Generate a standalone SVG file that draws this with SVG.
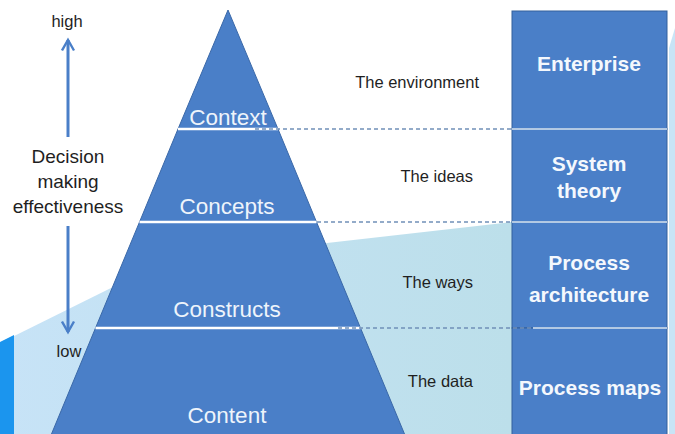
<svg xmlns="http://www.w3.org/2000/svg" width="675" height="434" viewBox="0 0 675 434">
<style>
.layer{fill:#4a7fc8;stroke:#3a68a8;stroke-width:1}
.cell{fill:#4a7fc8;stroke:#33609c;stroke-width:1}
.sep{stroke:#ffffff;stroke-width:2.5}
.csep{stroke:#dbe8f6;stroke-width:1.5}
.dash{stroke:#7090b8;stroke-width:1.3;stroke-dasharray:4 3;fill:none}
.pt{font-family:"Liberation Sans",Arial,sans-serif;font-size:22.5px;fill:#eef4fb;text-anchor:middle}
.mt{font-family:"Liberation Sans",Arial,sans-serif;font-size:16.5px;fill:#1f1f1f;text-anchor:end}
.ct{font-family:"Liberation Sans",Arial,sans-serif;font-size:21px;font-weight:bold;fill:#f4f8fd;text-anchor:middle}
.lt{font-family:"Liberation Sans",Arial,sans-serif;font-size:19px;fill:#1f1f1f;text-anchor:middle}
.st{font-family:"Liberation Sans",Arial,sans-serif;font-size:16.5px;fill:#1f1f1f;text-anchor:middle}
.arr{stroke:#4a7fc8;stroke-width:3;fill:none}
</style>
<defs>
<linearGradient id="bg" x1="0" y1="0" x2="1" y2="0">
<stop offset="0" stop-color="#c7e3f7"/>
<stop offset="1" stop-color="#bcdfea"/>
</linearGradient>
<marker id="ah" viewBox="0 0 10 10" refX="8" refY="5" markerWidth="5" markerHeight="5" orient="auto-start-reverse">
<path d="M1,1 L8,5 L1,9" fill="none" stroke="#4a7fc8" stroke-width="1.6"/>
</marker>
</defs>
<rect width="675" height="434" fill="#ffffff"/>
<g id="background">
<polygon points="0,343 113,287 327,243 512,222 512,440 0,440" fill="url(#bg)"/>
<polygon points="669,48 675,28 675,440 669,440" fill="#c8e4f6"/>
<polygon points="0,342 14,335 14,440 0,440" fill="#1b95ee"/>
</g>
<g id="layer-context">
<polygon class="layer" points="228,10 278,129 178,129"/>
<text class="pt" x="228" y="125">Context</text>
</g>
<g id="layer-concepts">
<polygon class="layer" points="178,129 278,129 316.5,222 139.5,222"/>
<text class="pt" x="227" y="214">Concepts</text>
</g>
<g id="layer-constructs">
<polygon class="layer" points="139.5,222 316.5,222 360.5,328 95.5,328"/>
<text class="pt" x="227" y="317">Constructs</text>
</g>
<g id="layer-content">
<polygon class="layer" points="95.5,328 360.5,328 407,440 49,440"/>
<text class="pt" x="227" y="423">Content</text>
</g>
<g id="col-enterprise">
<rect class="cell" x="512" y="11" width="155" height="118"/>
<text class="ct" x="589" y="71">Enterprise</text>
</g>
<g id="col-system">
<rect class="cell" x="512" y="129" width="155" height="93"/>
<text class="ct" x="589" y="171">System</text>
<text class="ct" x="589" y="198">theory</text>
</g>
<g id="col-process">
<rect class="cell" x="512" y="222" width="155" height="106"/>
<text class="ct" x="589" y="270">Process</text>
<text class="ct" x="589" y="302">architecture</text>
</g>
<g id="col-maps">
<rect class="cell" x="512" y="328" width="155" height="112"/>
<text class="ct" x="590" y="395">Process maps</text>
</g>
<g id="separators">
<line class="sep" x1="178" y1="129" x2="278" y2="129"/>
<line class="sep" x1="139.5" y1="222" x2="316.5" y2="222"/>
<line class="sep" x1="95.5" y1="328" x2="360.5" y2="328"/>
<line class="csep" x1="512" y1="129" x2="667" y2="129"/>
<line class="csep" x1="512" y1="222" x2="667" y2="222"/>
<line class="csep" x1="533" y1="328" x2="667" y2="328"/>
</g>
<g id="labels">
<text class="mt" x="479" y="88">The environment</text>
<text class="mt" x="473" y="182">The ideas</text>
<text class="mt" x="473" y="288">The ways</text>
<text class="mt" x="473" y="387">The data</text>
<text class="st" x="67" y="27">high</text>
<text class="lt" x="68" y="163">Decision</text>
<text class="lt" x="68" y="188">making</text>
<text class="lt" x="68" y="213">effectiveness</text>
<text class="st" x="69" y="357">low</text>
</g>
<g id="connectors">
<line class="dash" x1="255" y1="129" x2="512" y2="129"/>
<line class="dash" x1="317" y1="222" x2="512" y2="222"/>
<line class="dash" x1="338" y1="328" x2="533" y2="328"/>
<line class="arr" x1="68" y1="137" x2="68" y2="40" marker-end="url(#ah)"/>
<line class="arr" x1="68" y1="226" x2="68" y2="332" marker-end="url(#ah)"/>
</g>
</svg>
